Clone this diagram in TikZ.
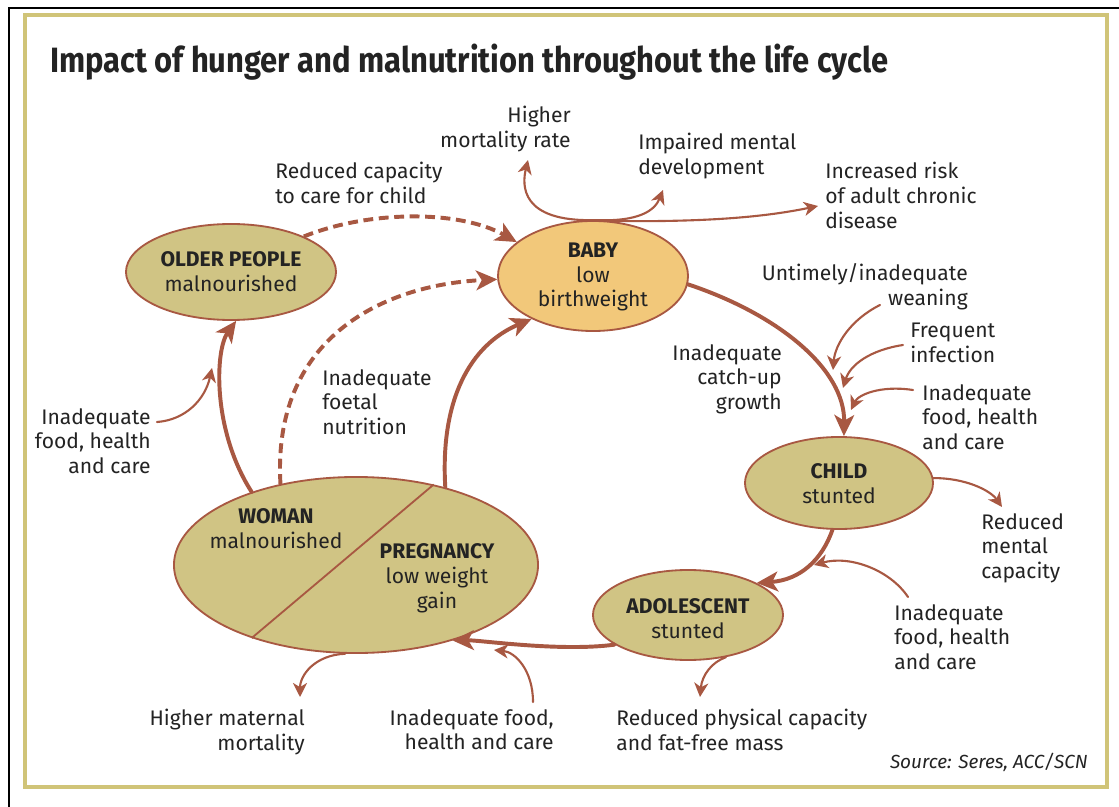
\documentclass[tikz,border=0pt]{standalone}
\usepackage{fontspec}
\setmainfont{Fira Sans}
\newfontfamily\titlefont[FakeStretch=0.88]{Fira Sans}
\usepackage{tikz}
\usetikzlibrary{shapes.geometric,arrows.meta}
\usepackage{xcolor}

\definecolor{arrowc}{RGB}{168,88,66}
\definecolor{stagec}{RGB}{208,196,132}
\definecolor{babyc}{RGB}{242,200,122}
\definecolor{framec}{RGB}{208,196,120}
\definecolor{textc}{RGB}{35,35,35}

\tikzset{
  stage/.style={ellipse, draw=arrowc, line width=1.3pt, fill=stagec, inner sep=0pt},
  stagetext/.style={align=center, text=textc, inner sep=0pt, font=\fontsize{15}{17.7}\selectfont},
  note/.style={text=textc, inner sep=0pt, font=\fontsize{15}{17.7}\selectfont},
  flow/.style={draw=arrowc, line width=2.8pt, line cap=round,
    -{Stealth[length=15pt,width=14pt,inset=4pt]}},
  dashflow/.style={flow, line cap=butt, dash pattern=on 7pt off 4pt},
  link/.style={draw=arrowc, line width=1.5pt, line cap=round,
    -{Stealth[length=10pt,width=10pt,inset=3pt]}},
}

\begin{document}
\begin{tikzpicture}[x=0.025cm, y=-0.025cm]
    \useasboundingbox (0,0) rectangle (1119,807);
    \fill[white] (0,0) rectangle (1119,807);

    % frame
    \draw[line width=1.6pt, black] (9,807) -- (9,8) -- (1119,8);
    \draw[line width=2.8pt, framec] (25,15) rectangle (1107,787);

    \node[anchor=west, text=textc, inner sep=0pt, font=\titlefont\bfseries\fontsize{25}{29}\selectfont]
      (title) at (50,62) {Impact of hunger and malnutrition throughout the life cycle};

    % stages of the cycle
    \node[stage, minimum width=5.25cm, minimum height=2.4cm] (older) at (231,272) {};
    \node[stage, fill=babyc, minimum width=4.75cm, minimum height=2.75cm] (baby) at (593,276) {};
    \node[stage, minimum width=4.7cm, minimum height=2.3cm] (child) at (839,483) {};
    \node[stage, minimum width=4.75cm, minimum height=2.25cm] (adol) at (688,615) {};
    \node[stage, minimum width=9.1cm, minimum height=4.4cm] (woman) at (356,565) {};
    \draw[arrowc, line width=1.3pt] (woman.46) -- (woman.215);

    \node[stagetext] (olderT) at (231,272) {\bfseries OLDER PEOPLE\\malnourished};
    \node[stagetext] (babyT) at (593,277) {\bfseries BABY\\low\\birthweight};
    \node[stagetext] (childT) at (839,484) {\bfseries CHILD\\stunted};
    \node[stagetext] (adolT) at (688,619) {\bfseries ADOLESCENT\\stunted};
    \node[stagetext] (womanT) at (276,529) {\bfseries WOMAN\\malnourished};
    \node[stagetext] (pregT) at (437,578) {\bfseries PREGNANCY\\low weight\\gain};

    % notes
    \node[note, align=right, anchor=north east] (mortRate) at (571,106) {Higher\\mortality rate};
    \node[note, align=left, anchor=north west] (mentalDev) at (638,133) {Impaired mental\\development};
    \node[note, align=left, anchor=north west] (chronic) at (825,162) {Increased risk\\of adult chronic\\disease};
    \node[note, align=left, anchor=north west] (careChild) at (275,162) {Reduced capacity\\to care for child};
    \node[note, align=right, anchor=north east] (weaning) at (968,263) {Untimely/inadequate\\weaning};
    \node[note, align=left, anchor=north west] (infection) at (910,323) {Frequent\\infection};
    \node[note, align=left, anchor=north west] (foodC) at (922,384) {Inadequate\\food, health\\and care};
    \node[note, align=right, anchor=north east] (catchUp) at (782,344) {Inadequate\\catch-up\\growth};
    \node[note, align=left, anchor=north west] (mentalCap) at (981,513) {Reduced\\mental\\capacity};
    \node[note, align=left, anchor=north west] (foodA) at (894,604) {Inadequate\\food, health\\and care};
    \node[note, align=left, anchor=north west] (physCap) at (616,709) {Reduced physical capacity\\and fat-free mass};
    \node[note, align=right, anchor=north east] (foodP) at (554,709) {Inadequate food,\\health and care};
    \node[note, align=right, anchor=north east] (maternal) at (305,709) {Higher maternal\\mortality};
    \node[note, align=right, anchor=north east] (foodW) at (151,408) {Inadequate\\food, health\\and care};
    \node[note, align=left, anchor=north west] (foetal) at (322,369) {Inadequate\\foetal\\nutrition};
    \node[anchor=east, text=textc, inner sep=0pt, font=\itshape\fontsize{13.5}{16}\selectfont]
      (source) at (1088,762) {Source: Seres, ACC/SCN};

    % free ends of the small arrows
    \coordinate (mortTip) at (528,160);
    \coordinate (devTip) at (663,190);
    \coordinate (chronTip) at (818,206);
    \coordinate (weanStart) at (880,305);
    \coordinate (weanTip) at (833,370);
    \coordinate (infStart) at (903,345);
    \coordinate (infTip) at (843,388);
    \coordinate (foodCStart) at (913,390);
    \coordinate (foodCTip) at (851,410);
    \coordinate (mentTip) at (1002,507);
    \coordinate (foodAStart) at (908,597);
    \coordinate (foodATip) at (814,565);
    \coordinate (physTip) at (700,697);
    \coordinate (matTip) at (300,697);
    \coordinate (foodPStart) at (533,702);
    \coordinate (foodPTip) at (494,650);
    \coordinate (foodWStart) at (157,422);
    \coordinate (foodWTip) at (212,368);

    % the cycle
    \draw[flow] (baby.-5) .. controls (780,315) and (845,370) .. (child.84);
    \draw[flow] (child.262) .. controls (822,560) and (800,580) .. (adol.25);
    \draw[flow] (adol.202) .. controls (560,652) and (480,640) .. (woman.-38);
    \draw[flow] (woman.41) .. controls (440,400) and (470,345) .. (baby.215);
    \draw[flow] (woman.145) .. controls (212,430) and (215,350) .. (older.-84);
    \draw[dashflow] (woman.133) .. controls (272,340) and (380,285) .. (baby.182);
    \draw[dashflow] (older.26) .. controls (370,210) and (460,210) .. (baby.156);

    % outcomes and causes
    \draw[link] (baby.88) .. controls (520,222) and (522,185) .. (mortTip);
    \draw[link] (baby.88) .. controls (640,222) and (655,210) .. (devTip);
    \draw[link] (baby.72) .. controls (700,222) and (760,218) .. (chronTip);
    \draw[link] (weanStart) .. controls (850,320) and (835,345) .. (weanTip);
    \draw[link] (infStart) .. controls (870,350) and (850,365) .. (infTip);
    \draw[link] (foodCStart) .. controls (880,385) and (858,395) .. (foodCTip);
    \draw[link] (child.3) .. controls (965,478) and (990,490) .. (mentTip);
    \draw[link] (foodAStart) .. controls (890,570) and (850,555) .. (foodATip);
    \draw[link] (adol.-48) .. controls (712,662) and (702,675) .. (physTip);
    \draw[link] (woman.263) .. controls (315,655) and (300,675) .. (matTip);
    \draw[link] (foodPStart) .. controls (533,670) and (515,652) .. (foodPTip);
    \draw[link] (foodWStart) .. controls (185,420) and (205,400) .. (foodWTip);
\end{tikzpicture}
\end{document}
